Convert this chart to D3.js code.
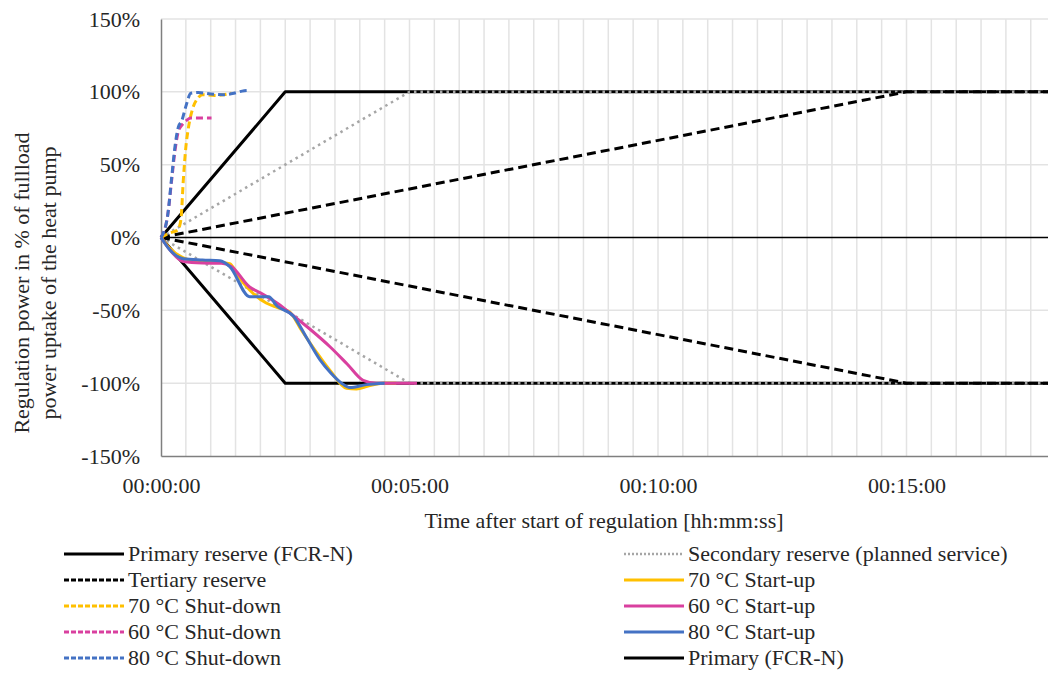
<!DOCTYPE html>
<html>
<head>
<meta charset="utf-8">
<script src="https://cdn.jsdelivr.net/npm/d3@7"></script>
<style>
  body { margin: 0; background: #fff; }
</style>
</head>
<body>
<script>
// time in seconds, value in % of full-load power uptake
const xTickSeconds = [0, 300, 600, 900];
const xTickLabels = ["00:00:00", "00:05:00", "00:10:00", "00:15:00"];
const yTicks = [-150, -100, -50, 0, 50, 100, 150];

const primaryUp = [[0, 0], [150, 100], [1080, 100]];
const primaryDown = [[0, 0], [150, -100], [1080, -100]];
const secondaryUp = [[0, 0], [300, 100], [1080, 100]];
const secondaryDown = [[0, 0], [300, -100], [1080, -100]];
const tertiaryUp = [[0, 0], [900, 100], [1080, 100]];
const tertiaryDown = [[0, 0], [900, -100], [1080, -100]];

const startup70 = [[0, 0], [10, -7], [27, -14], [50, -17], [70, -17], [83, -18], [95, -28], [107, -36], [127, -45], [140, -48], [155, -51], [170, -64], [188, -79], [205, -92], [224, -103.5], [236, -104], [250, -102], [268, -100], [284, -100]];
const startup60 = [[0, 0], [10, -8], [27, -16.5], [50, -17.5], [73, -17.7], [85, -20], [107, -34], [120, -38], [140, -45], [156, -52], [180, -63], [204, -75], [225, -87], [244, -98], [260, -100], [285, -100], [309, -100]];
const startup80 = [[0, 0], [10, -8], [27, -14.6], [50, -15.5], [71, -16], [83, -20], [107, -40.6], [118, -40.6], [130, -40.6], [140, -47], [160, -54], [176, -69], [192, -84], [205, -93], [218, -100], [228, -103], [248, -101], [270, -100]];

const shutdown70 = [[0, 0], [10, 3], [20, 5], [24, 12], [27, 40], [30, 62], [33, 75], [38, 88], [45, 96], [50, 98], [65, 97.5], [75, 98], [85, 99]];
const shutdown60 = [[0, 0], [8, 15], [13, 40], [17, 60], [21, 73], [25, 77], [30, 80], [36, 82], [48, 82], [61, 82]];
const shutdown80 = [[0, 0], [8, 15], [13, 42], [17, 63], [21, 76], [25, 80], [30, 90], [36, 99], [45, 99.5], [60, 98.5], [75, 98], [88, 99], [98, 100.5], [108, 101]];

const seriesNames = ["Primary reserve (FCR-N)", "Secondary reserve (planned service)", "Tertiary reserve",
  "70 °C Start-up", "70 °C Shut-down", "60 °C Start-up", "60 °C Shut-down",
  "80 °C Start-up", "80 °C Shut-down", "Primary (FCR-N)"];

const styles = {
  primary:   { color: "#000000", width: 3, dash: null },
  secondary: { color: "#a6a6a6", width: 2.5, dash: "2.5,4" },
  tertiary:  { color: "#000000", width: 3, dash: "9,5" },
  su70: { color: "#ffc000", width: 3, dash: null },
  sd70: { color: "#ffc000", width: 3, dash: "7,4" },
  su60: { color: "#d9409f", width: 3, dash: null },
  sd60: { color: "#d9409f", width: 3, dash: "7,4" },
  su80: { color: "#4472c4", width: 3, dash: null },
  sd80: { color: "#4472c4", width: 3, dash: "7,4" }
};

const W = 1048, H = 675;
const plotLeft = 161, plotTop = 19, plotBottom = 456;

const svg = d3.select("body").append("svg")
  .attr("width", W).attr("height", H);

const x = d3.scaleLinear().domain([0, 1080]).range([plotLeft, plotLeft + 1080 * 248.5 / 300]);
const y = d3.scaleLinear().domain([-150, 150]).range([plotBottom, plotTop]);

// vertical grid every 30 s
const gridX = d3.range(30, 1081, 30);
svg.append("g").selectAll("line").data(gridX).enter().append("line")
  .attr("x1", d => x(d)).attr("x2", d => x(d))
  .attr("y1", plotTop).attr("y2", plotBottom)
  .attr("stroke", "#e3e3e3").attr("stroke-width", 1.5);

svg.append("g").selectAll("line").data(yTicks.filter(d => d !== 0 && d !== -150)).enter().append("line")
  .attr("x1", plotLeft).attr("x2", W)
  .attr("y1", d => y(d)).attr("y2", d => y(d))
  .attr("stroke", "#e3e3e3").attr("stroke-width", 1.5);

// axes
const yAxis = svg.append("g").attr("transform", `translate(${plotLeft},0)`)
  .call(d3.axisLeft(y).tickValues(yTicks).tickSize(0).tickPadding(21).tickFormat(d => d + "%"));
yAxis.select(".domain").attr("stroke", "#7f7f7f").attr("stroke-width", 1.5);

const xAxis = svg.append("g").attr("transform", `translate(0,${plotBottom})`)
  .call(d3.axisBottom(x).tickValues(xTickSeconds).tickSize(0).tickPadding(21)
    .tickFormat((d, i) => xTickLabels[i]));
xAxis.select(".domain").attr("stroke", "#7f7f7f").attr("stroke-width", 1.5);

// zero line
svg.append("line")
  .attr("x1", plotLeft).attr("x2", W)
  .attr("y1", y(0)).attr("y2", y(0))
  .attr("stroke", "#000").attr("stroke-width", 1.5);

const line = d3.line().x(d => x(d[0])).y(d => y(d[1]));
const lineCurve = d3.line().x(d => x(d[0])).y(d => y(d[1])).curve(d3.curveMonotoneX);

function draw(data, st, gen) {
  svg.append("path")
    .datum(data)
    .attr("d", gen || line)
    .attr("fill", "none")
    .attr("stroke", st.color)
    .attr("stroke-width", st.width)
    .attr("stroke-dasharray", st.dash)
    .attr("stroke-linejoin", "round");
}

draw(primaryUp, styles.primary);
draw(primaryDown, styles.primary);
draw(secondaryUp, styles.secondary);
draw(secondaryDown, styles.secondary);
draw(tertiaryUp, styles.tertiary);
draw(tertiaryDown, styles.tertiary);
draw(startup70, styles.su70, lineCurve);
draw(shutdown70, styles.sd70, lineCurve);
draw(startup60, styles.su60, lineCurve);
draw(shutdown60, styles.sd60, lineCurve);
draw(startup80, styles.su80, lineCurve);
draw(shutdown80, styles.sd80, lineCurve);

// axis titles
svg.append("text")
  .attr("x", 604).attr("y", 528)
  .attr("text-anchor", "middle")
  .text("Time after start of regulation [hh:mm:ss]");

const yt = svg.append("text")
  .attr("transform", "translate(0,283) rotate(-90)")
  .attr("text-anchor", "middle");
yt.append("tspan").attr("x", 0).attr("y", 29).text("Regulation power in % of fullload");
yt.append("tspan").attr("x", 0).attr("y", 56).text("power uptake of the heat pump");

// legend, two columns filled row by row
const legendKeys = ["primary", "secondary", "tertiary", "su70", "sd70", "su60", "sd60", "su80", "sd80", "primary"];
const leg = svg.append("g").selectAll("g").data(seriesNames).enter().append("g")
  .attr("transform", (d, i) => `translate(${i % 2 === 0 ? 64 : 624},${554 + Math.floor(i / 2) * 26})`);
leg.append("line")
  .attr("x1", 0).attr("x2", 60).attr("y1", 0).attr("y2", 0)
  .attr("stroke", (d, i) => styles[legendKeys[i]].color)
  .attr("stroke-width", (d, i) => styles[legendKeys[i]].width)
  .attr("stroke-dasharray", (d, i) => styles[legendKeys[i]].dash ? (legendKeys[i] === "secondary" ? "2,2" : "5,2") : null);
leg.append("text")
  .attr("x", 64).attr("y", 7)
  .text(d => d);

// same serif face on every label
svg.selectAll("text")
  .style("font-family", "Times New Roman")
  .style("font-size", "22px")
  .attr("fill", "#262626");
</script>
</body>
</html>
